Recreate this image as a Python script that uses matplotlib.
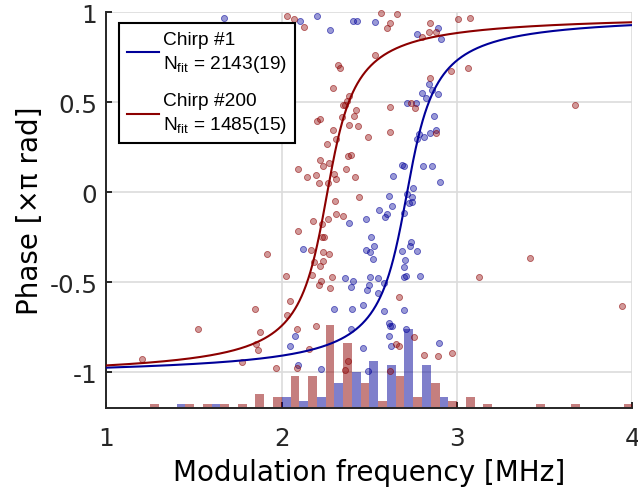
import numpy as np
import matplotlib
matplotlib.use("Agg")
import matplotlib.pyplot as plt

plt.rcParams["font.family"] = ["DejaVu Sans"]
plt.rcParams["mathtext.fontset"] = "custom"
plt.rcParams["mathtext.rm"] = "Liberation Sans"
plt.rcParams["mathtext.it"] = "Liberation Sans:italic"

# Resonance fit parameters (MHz)
f0_chirp1, gamma_chirp1 = 2.715, 0.242
f0_chirp200, gamma_chirp200 = 2.26, 0.237

label_chirp1 = "Chirp #1\nN$_{\\mathrm{fit}}$ = 2143(19)"
label_chirp200 = "Chirp #200\nN$_{\\mathrm{fit}}$ = 1485(15)"

# Measured phase points, chirp #1
chirp1_freq = [
    2.104, 2.201, 2.277, 2.408, 2.429, 2.532, 2.893, 2.773, 2.906, 2.840,
    2.857, 2.800, 2.823, 2.893, 2.712, 2.766, 2.868, 2.878, 2.844, 2.784,
    2.813, 2.770, 2.684, 2.699, 2.807, 2.855, 2.636, 2.902, 2.750, 2.613,
    2.712, 2.744, 2.740, 2.726, 2.630, 2.556, 2.598, 2.587, 2.699, 2.385,
    2.479, 2.511, 2.735, 2.528, 2.480, 2.501, 2.520, 2.731, 2.687, 2.773,
    2.701, 2.699, 2.699, 2.707, 2.788, 2.119, 2.361, 2.408, 2.393, 2.505,
    2.551, 2.500, 2.487, 2.583, 2.551, 2.463, 2.298, 2.400, 2.581, 2.699,
    2.611, 2.619, 2.630, 2.612, 2.394, 2.075, 2.045, 2.461, 2.621, 2.708,
    2.897, 2.091, 2.224, 2.492, 1.669,
]
chirp1_phase = [
    0.951, 0.979, 0.904, 0.953, 0.953, 0.945, 0.912, 0.877, 0.851, 0.602,
    0.569, 0.551, 0.524, 0.543, 0.497, 0.497, 0.426, 0.346, 0.330, 0.324,
    0.308, 0.296, 0.152, 0.148, 0.148, 0.148, 0.092, 0.059, 0.024, -0.019,
    -0.009, -0.028, -0.056, -0.060, -0.075, -0.097, -0.121, -0.139, -0.115, -0.172,
    -0.152, -0.250, -0.275, -0.302, -0.319, -0.334, -0.369, -0.302, -0.325, -0.328,
    -0.375, -0.417, -0.473, -0.467, -0.464, -0.315, -0.477, -0.492, -0.528, -0.473,
    -0.478, -0.516, -0.542, -0.506, -0.560, -0.625, -0.649, -0.649, -0.662, -0.656,
    -0.727, -0.742, -0.742, -0.798, -0.760, -0.801, -0.853, -0.864, -0.853, -0.760,
    -0.836, -0.959, -0.983, -0.992, 0.969,
]

# Measured phase points, chirp #200
chirp200_freq = [
    2.031, 2.071, 2.128, 2.564, 2.655, 2.617, 2.598, 2.845, 2.840, 2.880,
    2.798, 2.532, 2.319, 2.334, 2.290, 2.383, 2.374, 2.349, 2.362, 2.425,
    2.414, 2.342, 2.203, 2.218, 2.383, 2.433, 2.294, 2.494, 2.309, 2.256,
    2.617, 2.617, 2.395, 2.378, 2.218, 2.269, 2.235, 2.366, 2.091, 2.298,
    2.193, 2.142, 2.419, 2.307, 2.210, 2.265, 2.845, 2.735, 2.760, 2.878,
    2.303, 2.440, 2.311, 2.347, 2.180, 2.231, 2.262, 2.091, 2.228, 2.239,
    2.165, 2.235, 2.269, 2.237, 2.184, 2.216, 1.917, 2.024, 2.171, 2.222,
    2.210, 2.277, 2.286, 2.667, 2.045, 2.030, 2.195, 2.087, 2.650, 2.667,
    2.754, 2.811, 2.893, 2.157, 2.378, 2.087, 1.967, 2.361, 2.619, 1.200,
    1.520, 1.847, 1.877, 1.852, 1.865, 1.775, 3.003, 3.074, 2.965, 3.060,
    3.674, 3.416, 3.123, 3.939, 2.971,
]
chirp200_phase = [
    0.982, 0.964, 0.918, 0.997, 0.993, 0.940, 0.914, 0.940, 0.890, 0.888,
    0.864, 0.760, 0.708, 0.690, 0.578, 0.537, 0.509, 0.486, 0.486, 0.459,
    0.426, 0.417, 0.398, 0.408, 0.376, 0.367, 0.343, 0.309, 0.296, 0.265,
    0.476, 0.337, 0.207, 0.200, 0.181, 0.163, 0.148, 0.130, 0.130, 0.102,
    0.096, 0.083, 0.087, 0.072, 0.050, 0.050, 0.634, 0.497, 0.469, 0.330,
    -0.047, -0.028, -0.121, -0.134, -0.161, -0.175, -0.152, -0.217, -0.247, -0.250,
    -0.319, -0.334, -0.343, -0.380, -0.389, -0.412, -0.343, -0.464, -0.460, -0.492,
    -0.519, -0.531, -0.469, -0.581, -0.603, -0.682, -0.742, -0.760, -0.846, -0.857,
    -0.805, -0.903, -0.909, -0.873, -0.937, -0.979, -0.979, -0.988, -0.996, -0.928,
    -0.760, -0.651, -0.776, -0.847, -0.880, -0.943, 0.960, 0.968, 0.671, 0.691,
    0.486, -0.365, -0.469, -0.632, -0.897,
]

# Frequency histograms: 0.1 MHz bins starting at 1.0 MHz
bin_left = [1.0 + 0.1 * k for k in range(30)]
counts_chirp1 = [0, 0, 0, 0, 1, 0, 1, 0, 0, 0,
                 3, 2, 3, 7, 10, 13, 12, 22, 12, 3,
                 0, 0, 0, 0, 0, 0, 0, 0, 0, 0]
counts_chirp200 = [0, 0, 1, 0, 1, 1, 1, 1, 4, 3,
                   9, 9, 23, 18, 7, 2, 9, 3, 7, 2,
                   3, 1, 0, 0, 1, 0, 1, 0, 0, 1]
count_scale = 0.02      # phase units per count
hist_base = -1.2

xticks = [1, 2, 3, 4]
yticks = [-1, -0.5, 0, 0.5, 1]
ytick_labels = ["-1", "-0.5", "0", "0.5", "1"]

blue = (0.0, 0.0, 0.6)
red = (0.55, 0.0, 0.0)
ink = "#262626"


def oscillator_phase(f, f0, gamma):
    """Driven-oscillator phase in units of pi, shifted to run from -1 to 1."""
    return 2.0 / np.pi * np.arctan2(f * gamma, f0 ** 2 - f ** 2) - 1.0


fig = plt.figure(figsize=(6.38, 5.02), dpi=100)
ax = fig.add_axes([0.1669, 0.1853, 0.8243, 0.7882])

# histograms (blue in the left half of each bin, red in the right half)
bw = 0.05
left = np.array(bin_left)
ax.bar(left, np.array(counts_chirp1) * count_scale, width=bw, bottom=hist_base,
       align="edge", color=blue, alpha=0.5, linewidth=0, zorder=1)
ax.bar(left + bw, np.array(counts_chirp200) * count_scale, width=bw, bottom=hist_base,
       align="edge", color=red, alpha=0.5, linewidth=0, zorder=1)

# data points
ax.scatter(chirp1_freq, chirp1_phase, s=19, facecolor=blue + (0.4,),
           edgecolor=blue + (0.6,), linewidths=0.6, zorder=2, clip_on=False)
ax.scatter(chirp200_freq, chirp200_phase, s=19, facecolor=red + (0.4,),
           edgecolor=red + (0.6,), linewidths=0.6, zorder=2, clip_on=False)

# fitted curves
f = np.linspace(1.0, 4.0, 1200)
ax.plot(f, oscillator_phase(f, f0_chirp1, gamma_chirp1), color=blue, lw=1.5,
        label=label_chirp1, zorder=3)
ax.plot(f, oscillator_phase(f, f0_chirp200, gamma_chirp200), color=red, lw=1.5,
        label=label_chirp200, zorder=3)

ax.set_xlim(1, 4)
ax.set_ylim(-1.2, 1)
ax.set_xticks(xticks)
ax.set_yticks(yticks)
ax.set_yticklabels(ytick_labels)

ax.grid(True, color="#dcdcdc", linewidth=1.2)
ax.set_axisbelow(True)
for side in ("top", "right"):
    ax.spines[side].set_visible(False)
for side in ("left", "bottom"):
    ax.spines[side].set_color(ink)
    ax.spines[side].set_linewidth(1.4)

ax.tick_params(axis="both", direction="in", length=4, width=1.4, color=ink,
               labelcolor=ink, labelsize=17.7)
ax.tick_params(axis="x", pad=13)
ax.tick_params(axis="y", pad=6.5)

ax.set_xlabel("Modulation frequency [MHz]", fontsize=20, color="black", labelpad=6)
ax.set_ylabel("Phase [×π rad]", fontsize=20, color="black", labelpad=4)

leg = ax.legend(loc="upper left", bbox_to_anchor=(0.0238, 0.973),
                prop={"family": "Liberation Sans", "size": 13.8},
                frameon=True, fancybox=False, borderaxespad=0,
                handlelength=1.7, handletextpad=0.2, labelspacing=0.95,
                borderpad=0.4)
for t in leg.get_texts():
    t.set_linespacing(1.35)
frame = leg.get_frame()
frame.set_edgecolor("black")
frame.set_linewidth(1.5)
frame.set_facecolor("white")
frame.set_alpha(1)
leg.set_zorder(10)

fig.savefig("out.png", dpi=100)
